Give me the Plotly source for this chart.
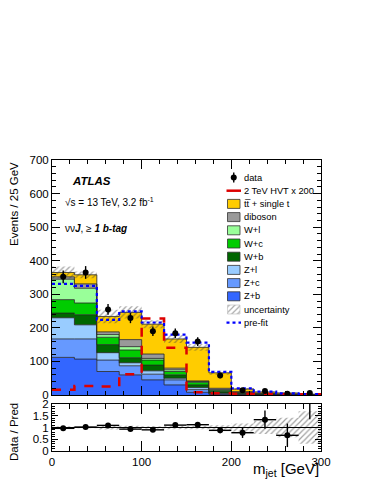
import plotly.graph_objects as go

# m_jet bin edges [GeV]
bin_edges = [0, 25, 50, 75, 100, 125, 150, 175, 200, 225, 250, 275, 300]

# post-fit backgrounds, events / 25 GeV
z_b = [112, 107, 70, 60, 45, 30, 8, 2, 1, 0.5, 0.3, 0.2]
z_c = [55, 60, 34, 27, 17, 15, 8, 2, 1, 0.5, 0.3, 0.2]
z_l = [63, 42, 22, 9, 10, 5, 6, 2, 1, 0.5, 0.3, 0.2]
w_b = [14, 30, 24, 15, 17, 10, 8, 4, 2, 1, 0.5, 0.2]
w_c = [40, 35, 22, 23, 15, 10, 8, 4, 2, 1, 0.6, 0.2]
w_l = [61, 44, 8, 10, 5, 5, 2, 2, 1, 0.5, 0.3, 0.2]
diboson = [7, 13, 8, 21, 13, 5, 2, 4, 2, 1, 0.7, 0.3]
top = [13, 27, 46, 81, 89, 87, 100, 46, 8, 4, 3, 1.1]

data = [352, 365, 255, 229, 190, 184, 159, 58, 14, 12, 4, 6]
data_err = [19, 19, 16, 15, 14, 14, 13, 8, 4, 3.5, 3, 2.5]
bkg_unc = [18, 10, 20, 18, 12, 12, 10, 6, 3, 2.5, 2.5, 1.8]
hvt_x200 = [16, 27, 25, 62, 228, 141, 8, 5, 4, 3, 2, 2]
prefit = [331, 325, 224, 249, 216, 180, 156, 69, 20, 10, 5, 3]

backgrounds = [
    ("Z+b", z_b, "#3366ff"),
    ("Z+c", z_c, "#6699ff"),
    ("Z+l", z_l, "#99ccff"),
    ("W+b", w_b, "#006600"),
    ("W+c", w_c, "#00cc00"),
    ("W+l", w_l, "#99ff99"),
    ("diboson", diboson, "#999999"),
    ("tt\u0305 + single t", top, "#ffcc00"),
]

FONT = "Liberation Sans, Arial, Helvetica, sans-serif"
W, H = 374, 484
L, R, T, B = 52, 321, 160, 451   # plot area in pixels
split_lo, split_hi = 404, 395     # ratio top / main bottom (pixels)

centers = [(a + b) / 2 for a, b in zip(bin_edges[:-1], bin_edges[1:])]
half = [(b - a) / 2 for a, b in zip(bin_edges[:-1], bin_edges[1:])]


def step(vals):
    return bin_edges, list(vals) + [vals[-1]]


def hatch_band(lo, hi, xa, ya):
    # lower edge invisible, upper edge fills down to it with hatching
    lx, ly = step(lo)
    hx, hy = step(hi)
    fig.add_trace(go.Scatter(x=lx, y=ly, mode="lines", line_shape="hv",
                             line=dict(width=0), xaxis=xa, yaxis=ya, showlegend=False))
    fig.add_trace(go.Scatter(x=hx, y=hy, mode="lines", line_shape="hv",
                             line=dict(width=0), fill="tonexty",
                             fillcolor="rgba(0,0,0,0)",
                             fillpattern=dict(shape="/", fgcolor="#444444",
                                              bgcolor="rgba(0,0,0,0)", size=4,
                                              solidity=0.3, fillmode="overlay"),
                             xaxis=xa, yaxis=ya, showlegend=False))


fig = go.Figure()

# stacked backgrounds as filled step histograms
base = [0] * len(centers)
for i, (name, vals, col) in enumerate(backgrounds):
    base = [b + v for b, v in zip(base, vals)]
    sx, sy = step(base)
    fig.add_trace(go.Scatter(x=sx, y=sy, mode="lines", line_shape="hv", name=name,
                             line=dict(color="#222222", width=0.8),
                             fill="tozeroy" if i == 0 else "tonexty", fillcolor=col,
                             xaxis="x", yaxis="y", showlegend=False))
total = base

# uncertainty band
hatch_band([t - u for t, u in zip(total, bkg_unc)],
           [t + u for t, u in zip(total, bkg_unc)], "x", "y")

sx, sy = step(hvt_x200)
fig.add_trace(go.Scatter(x=sx, y=sy, mode="lines", line_shape="hv",
                         line=dict(color="#dd0000", width=2.5, dash="dash"),
                         xaxis="x", yaxis="y", showlegend=False))
sx, sy = step(prefit)
fig.add_trace(go.Scatter(x=sx, y=sy, mode="lines", line_shape="hv",
                         line=dict(color="#0000ff", width=2.2, dash="dot"),
                         xaxis="x", yaxis="y", showlegend=False))
fig.add_trace(go.Scatter(x=centers, y=data, mode="markers",
                         marker=dict(color="black", size=6),
                         error_y=dict(type="data", array=data_err, color="black",
                                      thickness=1.4, width=0),
                         xaxis="x", yaxis="y", showlegend=False))

# ratio panel
ratio = [d / t for d, t in zip(data, total)]
ratio_err = [e / t for e, t in zip(data_err, total)]
rel_unc = [u / t for u, t in zip(bkg_unc, total)]

hatch_band([1 - r for r in rel_unc], [1 + r for r in rel_unc], "x2", "y2")
fig.add_trace(go.Scatter(x=[0, 300], y=[1, 1], mode="lines",
                         line=dict(color="black", width=1),
                         xaxis="x2", yaxis="y2", showlegend=False))
fig.add_trace(go.Scatter(x=centers, y=ratio, mode="markers",
                         marker=dict(color="black", size=6),
                         error_y=dict(type="data", array=ratio_err, color="black",
                                      thickness=1.4, width=0),
                         error_x=dict(type="data", array=half, color="black",
                                      thickness=1.4, width=0),
                         xaxis="x2", yaxis="y2", showlegend=False))

# legend drawn in a pixel-coordinate overlay axis
leg_items = [
    ("data", "data", None),
    ("2 TeV HVT x 200", "line", dict(color="#dd0000", width=2.5, dash="solid")),
] + [(n, "box", c) for n, _, c in reversed(backgrounds)] + [
    ("uncertainty", "hatch", None),
    ("pre-fit", "line", dict(color="#0000ff", width=2.2, dash="dot")),
]

y0, dy = 177.5, 13.2
bx0, bx1 = 227.5, 240
annotations = []
for i, (label, kind, sty) in enumerate(leg_items):
    yc = y0 + dy * i
    if kind == "box" or kind == "hatch":
        xs = [bx0, bx1, bx1, bx0, bx0]
        ys = [yc - 4.5, yc - 4.5, yc + 4.5, yc + 4.5, yc - 4.5]
        if kind == "box":
            fig.add_trace(go.Scatter(x=xs, y=ys, mode="lines", fill="toself",
                                     fillcolor=sty, line=dict(color="#333333", width=0.8),
                                     xaxis="x3", yaxis="y3", showlegend=False))
        else:
            fig.add_trace(go.Scatter(x=xs, y=ys, mode="lines", fill="toself",
                                     fillcolor="rgba(0,0,0,0)",
                                     fillpattern=dict(shape="/", fgcolor="#555555",
                                                      bgcolor="white", size=4, solidity=0.3),
                                     line=dict(color="#bbbbbb", width=0.6),
                                     xaxis="x3", yaxis="y3", showlegend=False))
    elif kind == "line":
        fig.add_trace(go.Scatter(x=[bx0 - 1, bx1 + 1], y=[yc, yc], mode="lines", line=sty,
                                 xaxis="x3", yaxis="y3", showlegend=False))
    else:
        fig.add_trace(go.Scatter(x=[(bx0 + bx1) / 2], y=[yc], mode="markers",
                                 marker=dict(color="black", size=6),
                                 error_y=dict(type="constant", value=5, color="black",
                                              thickness=1.4, width=0),
                                 xaxis="x3", yaxis="y3", showlegend=False))
    annotations.append(dict(x=242, y=yc, xref="x3", yref="y3", text=label,
                            showarrow=False, xanchor="left", yanchor="middle",
                            font=dict(size=9.3, color="black", family=FONT)))

# labels
annotations += [
    dict(x=70, y=181, xref="x3", yref="y3", text="<b><i>ATLAS</i></b>",
         showarrow=False, xanchor="left", yanchor="middle",
         font=dict(size=11.5, color="black", family=FONT)),
    dict(x=63, y=202, xref="x3", yref="y3",
         text="\u221As = 13 TeV, 3.2 fb<sup>-1</sup>",
         showarrow=False, xanchor="left", yanchor="middle",
         font=dict(size=10, color="black", family=FONT)),
    dict(x=63, y=228, xref="x3", yref="y3",
         text="\u03bd\u03bd<b><i>J</i></b>, \u2265 <b><i>1 b-tag</i></b>",
         showarrow=False, xanchor="left", yanchor="middle",
         font=dict(size=10, color="black", family=FONT)),
    dict(x=(14 - L) / (R - L), y=1, xref="paper", yref="paper",
         text="Events / 25 GeV", textangle=-90, showarrow=False,
         xanchor="center", yanchor="top",
         font=dict(size=11.5, color="black", family=FONT)),
    dict(x=(14 - L) / (R - L), y=(B - 432) / (B - T), xref="paper", yref="paper",
         text="Data / Pred", textangle=-90, showarrow=False,
         xanchor="center", yanchor="middle",
         font=dict(size=11.5, color="black", family=FONT)),
    dict(x=1, y=(B - 469) / (B - T), xref="paper", yref="paper",
         text="m<sub>jet</sub> [GeV]", showarrow=False,
         xanchor="right", yanchor="middle",
         font=dict(size=15, color="black", family=FONT)),
]

axis_common = dict(showline=True, linecolor="black", linewidth=1, mirror="ticks",
                   ticks="inside", tickcolor="black", showgrid=False, zeroline=False,
                   tickfont=dict(size=11.5, color="black", family=FONT))

fig.update_layout(
    width=W, height=H,
    margin=dict(l=L, r=W - R, t=T, b=H - B, pad=0),
    paper_bgcolor="white", plot_bgcolor="rgba(0,0,0,0)",
    annotations=annotations,
    xaxis=dict(domain=[0, 1], anchor="y", range=[0, 300], tick0=0, dtick=100,
               ticklen=9, showticklabels=False,
               minor=dict(dtick=20, ticklen=4, ticks="inside", tickcolor="black"),
               **axis_common),
    yaxis=dict(domain=[(B - split_hi) / (B - T), 1], anchor="x", range=[0, 700],
               tick0=0, dtick=100, ticklen=8,
               minor=dict(dtick=20, ticklen=4, ticks="inside", tickcolor="black"),
               **axis_common),
    xaxis2=dict(domain=[0, 1], anchor="y2", range=[0, 300], tick0=0, dtick=100,
                ticklen=10,
                minor=dict(dtick=20, ticklen=5, ticks="inside", tickcolor="black"),
                **axis_common),
    yaxis2=dict(domain=[0, (B - split_lo) / (B - T)], anchor="x2", range=[0, 2],
                tickvals=[0, 0.5, 1, 1.5, 2], ticktext=["0", "0.5", "1", "1.5", "2"],
                ticklen=6,
                minor=dict(dtick=0.1, ticklen=3, ticks="inside", tickcolor="black"),
                **axis_common),
    xaxis3=dict(domain=[0, 1], anchor="y3", range=[L, R], visible=False, fixedrange=True),
    yaxis3=dict(domain=[0, 1], anchor="x3", range=[B, T], visible=False, fixedrange=True),
)

# drop the default body margin so the figure sits at the window's corner
fig.write_html("out.html", config={"displayModeBar": False},
               post_script="document.body.style.margin='0';")
